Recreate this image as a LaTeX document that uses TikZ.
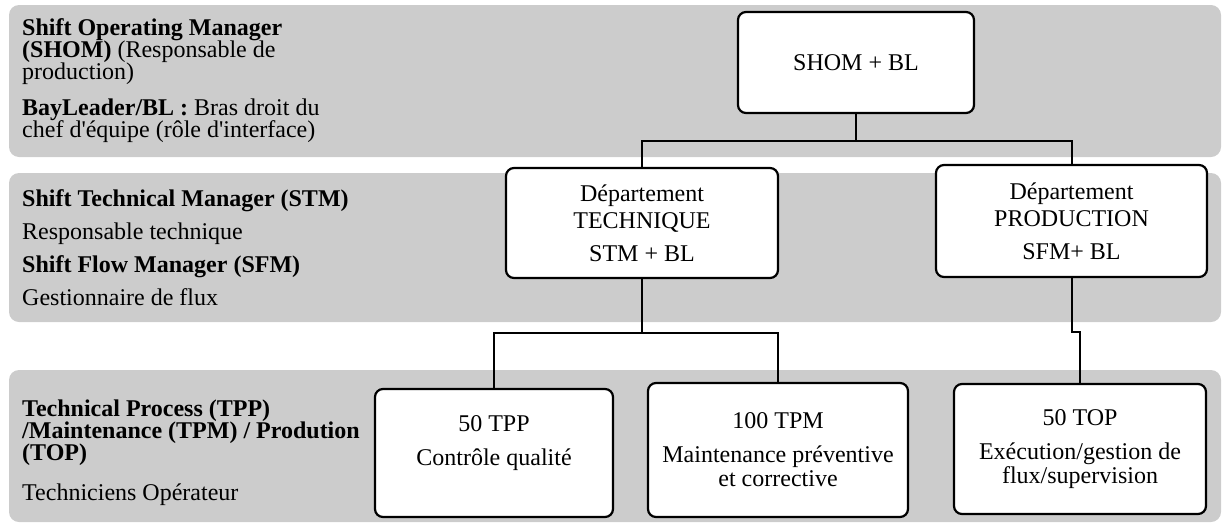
\documentclass[tikz,border=0pt]{standalone}
\usepackage{fontspec}
\setmainfont{Liberation Serif}
\usetikzlibrary{positioning}

\definecolor{bandgray}{RGB}{204,204,204}
\newcommand{\sidefont}{\fontsize{24}{22}\selectfont\lineskiplimit-20pt\relax}

\tikzset{
	band/.style={fill=bandgray, rounded corners=10pt},
	side/.style={anchor=north west, align=left, inner sep=0pt, font=\sidefont},
	unit/.style={draw, line width=2.2pt, rounded corners=8pt, fill=white, align=center, inner sep=0pt},
	dept/.style={font=\fontsize{24}{27}\selectfont},
	staff/.style={font=\fontsize{24}{24}\selectfont},
	link/.style={line width=2pt}
}

\begin{document}
\begin{tikzpicture}[x=1pt,y=-1pt]
	\useasboundingbox (0,0) rectangle (1222,525);
	
	% the three levels
	\fill[band] (9,5) rectangle (1221,157);
	\fill[band] (9,173) rectangle (1221,322);
	\fill[band] (9,370) rectangle (1221,522);
	
	\node[side] (roles1) at (22,18) {\textbf{Shift Operating Manager}\\\textbf{(SHOM)} (Responsable de\\production)\\[14pt]\textbf{BayLeader/BL :} Bras droit du\\chef d\textquotesingle équipe (rôle d\textquotesingle interface)};
	\node[side] (roles2) at (22,189) {\textbf{Shift Technical Manager (STM)}\\[11pt]Responsable technique\\[11pt]\textbf{Shift Flow Manager (SFM)}\\[11pt]Gestionnaire de flux};
	\node[side] (roles3) at (22,400) {\textbf{Technical Process (TPP)}\\\textbf{/Maintenance (TPM) / Prodution}\\\textbf{(TOP)}\\[18pt]Techniciens Opérateur};
	
	% boxes
	\node[unit, dept, minimum width=236pt, minimum height=101pt] (shom) at (856,62.5) {SHOM + BL};
	\node[unit, dept, minimum width=272pt, minimum height=110pt] (tech) at (642,223) {Département\\TECHNIQUE\\[6pt]STM + BL};
	\node[unit, dept, minimum width=271pt, minimum height=112pt] (prod) at (1071.5,221) {Département\\PRODUCTION\\[6pt]SFM+ BL};
	
	\node[unit, staff, minimum width=238pt, minimum height=128pt] (tpp) at (494,453) {50 TPP\\[10pt]Contrôle qualité\\\mbox{}};
	\node[unit, staff, minimum width=260pt, minimum height=134pt] (tpm) at (778,450) {100 TPM\\[10pt]Maintenance préventive\\et corrective};
	\node[unit, staff, minimum width=252pt, minimum height=130pt] (top) at (1080,449) {50 TOP\\[10pt]Exécution/gestion de\\flux/supervision};
	
	% connectors
	\draw[link] (shom.south) -- ++(0,27) -| (tech.north);
	\draw[link] (shom.south) -- ++(0,27) -| (prod.north);
	\draw[link] (tech.south) -- ++(0,54) -| (tpp.north);
	\draw[link] (tech.south) -- ++(0,54) -| (tpm.north);
	\draw[link] (prod.south) -- ++(0,54) -| (top.north);
	
\end{tikzpicture}
\end{document}
